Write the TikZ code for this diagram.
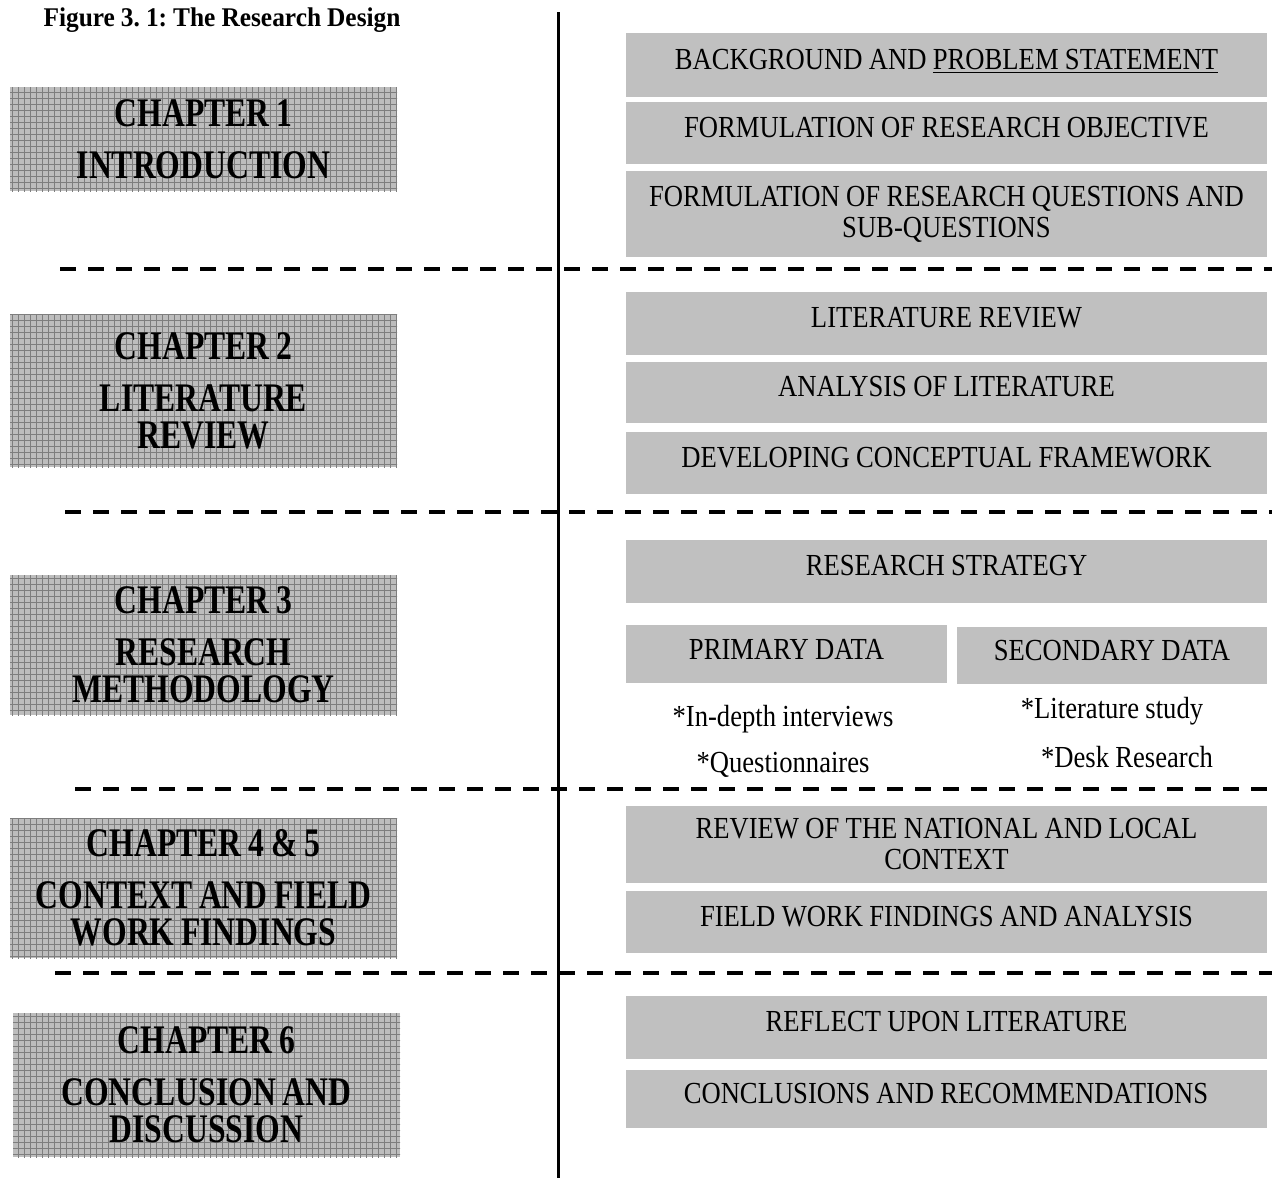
\documentclass[tikz,border=0pt]{standalone}
\usepackage{fontspec}
\setmainfont{Liberation Serif}[FakeStretch=0.87, WordSpace=0.95]
\newfontfamily\chapfont{Liberation Serif}[FakeStretch=0.78, WordSpace=0.85]
\newfontfamily\titlefont{Liberation Serif}[FakeStretch=0.94, WordSpace=0.95]
\usepackage{xcolor}
\usetikzlibrary{patterns}
\frenchspacing

\definecolor{stagegray}{HTML}{C0C0C0}
\definecolor{chapgray}{HTML}{BDBDBD}
\definecolor{gridgray}{HTML}{7E7E7E}

\begin{document}
\begin{tikzpicture}[
    x=0.5pt, y=-0.5pt,
    chapbox/.style={fill=chapgray, postaction={pattern=grid, pattern color=gridgray},
        minimum width=193.5pt, align=flush center, inner sep=0pt,
        font=\chapfont\fontsize{20.3}{18.5}\selectfont\bfseries},
    stagebox/.style={fill=stagegray, minimum width=320.5pt, text width=306pt,
        align=flush center, inner sep=0pt, font=\fontsize{15.3}{15}\selectfont},
    oneline/.style={stagebox, text height=10pt, text depth=6pt},
    twoline/.style={stagebox, font=\fontsize{15.3}{15.5}\selectfont},
    databox/.style={fill=stagegray, inner sep=0pt, text height=10pt, text depth=5pt,
        font=\fontsize{15.3}{15}\selectfont},
    note/.style={inner sep=0pt, font=\fontsize{15.3}{15}\selectfont},
    divider/.style={line width=2pt, dash pattern=on 8pt off 6pt},
    spine/.style={line width=1.5pt}
]
    \useasboundingbox (0,0) rectangle (1282,1178);

    \node[font=\titlefont\fontsize{13.5}{15}\selectfont\bfseries] (title) at (222,20) {Figure 3. 1: The Research Design};

    % left column: chapters
    \node[chapbox, minimum height=52pt] (ch1) at (203.5,139) {CHAPTER 1\\[7.5pt]INTRODUCTION};
    \node[chapbox, minimum height=76.5pt] (ch2) at (203.5,390.5) {CHAPTER 2\\[7.5pt]LITERATURE\\REVIEW};
    \node[chapbox, minimum height=70pt] (ch3) at (203.5,645) {CHAPTER 3\\[7.5pt]RESEARCH\\METHODOLOGY};
    \node[chapbox, minimum height=70pt] (ch4) at (203.5,888) {CHAPTER 4 \& 5\\[7.5pt]CONTEXT AND FIELD\\WORK FINDINGS};
    \node[chapbox, minimum height=72pt] (ch6) at (206.5,1085) {CHAPTER 6\\[7.5pt]CONCLUSION AND\\DISCUSSION};

    % right column: steps
    \node[oneline, minimum height=32pt] (bg) at (946.5,65) {BACKGROUND AND \underline{PROBLEM STATEMENT}};
    \node[oneline, minimum height=31pt] (obj) at (946.5,133) {FORMULATION OF RESEARCH OBJECTIVE};
    \node[twoline, minimum height=43pt] (rq) at (946.5,214) {FORMULATION OF RESEARCH QUESTIONS AND\\SUB-QUESTIONS};

    \node[oneline, minimum height=31.5pt] (litrev) at (946.5,323.5) {LITERATURE REVIEW};
    \node[oneline, minimum height=30.5pt] (litana) at (946.5,392.5) {ANALYSIS OF LITERATURE};
    \node[oneline, minimum height=31pt] (concfw) at (946.5,463) {DEVELOPING CONCEPTUAL FRAMEWORK};

    \node[oneline, minimum height=31.5pt] (strat) at (946.5,571.5) {RESEARCH STRATEGY};
    \node[databox, minimum width=160.5pt, minimum height=29pt] (prim) at (786.5,654) {PRIMARY DATA};
    \node[databox, minimum width=155pt, minimum height=28.5pt] (sec) at (1112,655.5) {SECONDARY DATA};
    \node[note] (interv) at (783,719) {*In-depth interviews};
    \node[note] (quest) at (783,765) {*Questionnaires};
    \node[note] (litstudy) at (1112,711) {*Literature study};
    \node[note] (desk) at (1127,757) {*Desk Research};

    \node[twoline, minimum height=38.5pt] (context) at (946.5,844.5) {REVIEW OF THE NATIONAL AND LOCAL\\CONTEXT};
    \node[oneline, minimum height=31pt] (field) at (946.5,922) {FIELD WORK FINDINGS AND ANALYSIS};

    \node[oneline, minimum height=31.5pt] (reflect) at (946.5,1027.5) {REFLECT UPON LITERATURE};
    \node[oneline, minimum height=29pt] (concl) at (946,1099) {CONCLUSIONS AND RECOMMENDATIONS};

    % separators
    \draw[spine] (558,12) -- (558,1178);
    \draw[divider] (60,269) -- (1272,269);
    \draw[divider] (65,512) -- (1272,512);
    \draw[divider] (75,789) -- (1272,789);
    \draw[divider] (55,973) -- (1272,973);
\end{tikzpicture}
\end{document}
